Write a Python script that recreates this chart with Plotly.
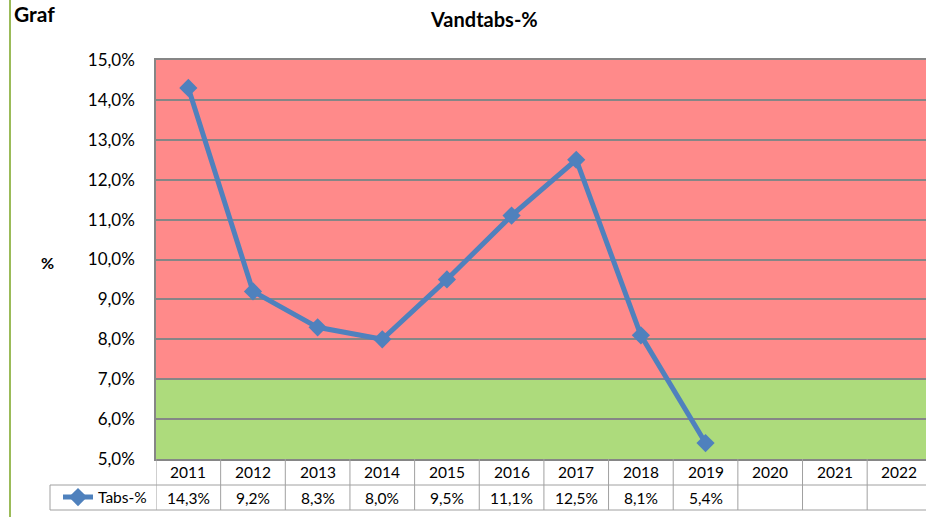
import plotly.graph_objects as go

years = ["2011", "2012", "2013", "2014", "2015", "2016", "2017", "2018", "2019", "2020", "2021", "2022"]
tabs_pct = [14.3, 9.2, 8.3, 8.0, 9.5, 11.1, 12.5, 8.1, 5.4, None, None, None]
series_name = "Tabs-%"
title_text = "Vandtabs-%"
y_ticks = [5, 6, 7, 8, 9, 10, 11, 12, 13, 14, 15]
red_zone = (7, 15)
green_zone = (5, 7)

FONT = "Lato, Carlito, sans-serif"
W, H = 926, 517
L, T, B = 156, 60, 58
plot_w = W - L
plot_h = H - T - B

def px_to_xp(px):
    return (px - L) / plot_w

def py_to_yp(py):
    return (H - B - py) / plot_h

def fmt(v):
    return f"{v:.1f}%".replace(".", ",")

xs = list(range(len(years)))

fig = go.Figure()
fig.add_trace(go.Scatter(
    x=xs, y=tabs_pct, mode="lines+markers", name=series_name,
    line=dict(color="#4F81BD", width=5),
    marker=dict(symbol="diamond", size=14, color="#4F81BD"),
    showlegend=True,
))

shapes = []
shapes.append(dict(type="rect", xref="paper", yref="y", x0=0, x1=1, y0=red_zone[0], y1=red_zone[1],
                   fillcolor="#FF8A8A", line=dict(width=0), layer="below"))
shapes.append(dict(type="rect", xref="paper", yref="y", x0=0, x1=1, y0=green_zone[0], y1=green_zone[1],
                   fillcolor="#ADDB7C", line=dict(width=0), layer="below"))
grid_col = "#A0A0A0"
row1 = py_to_yp(485)
row2 = py_to_yp(510)
for i in range(len(years) + 1):
    shapes.append(dict(type="line", xref="x", yref="paper", x0=i - 0.5, x1=i - 0.5, y0=0, y1=row2,
                       line=dict(color=grid_col, width=1)))
for yy in (row1, row2):
    shapes.append(dict(type="line", xref="paper", yref="paper", x0=px_to_xp(50), x1=1, y0=yy, y1=yy,
                       line=dict(color=grid_col, width=1)))
shapes.append(dict(type="line", xref="paper", yref="paper", x0=px_to_xp(50), x1=px_to_xp(50), y0=row1, y1=row2,
                   line=dict(color=grid_col, width=1)))
shapes.append(dict(type="line", xref="paper", yref="paper", x0=px_to_xp(10), x1=px_to_xp(10),
                   y0=py_to_yp(0), y1=py_to_yp(H), line=dict(color="#9BBB59", width=2)))

annotations = []
for i, yr in enumerate(years):
    annotations.append(dict(x=i, y=(0 + row1) / 2, xref="x", yref="paper", text=yr, showarrow=False,
                            font=dict(family=FONT, size=15.5, color="#000000"), yanchor="middle"))
    v = tabs_pct[i]
    if v is not None:
        annotations.append(dict(x=i, y=(row1 + row2) / 2, xref="x", yref="paper",
                                text=fmt(v), showarrow=False,
                                font=dict(family=FONT, size=15.5, color="#000000"), yanchor="middle"))
annotations.append(dict(x=px_to_xp(12), y=py_to_yp(14), xref="paper", yref="paper", text="<b>Graf</b>",
                        showarrow=False, xanchor="left", yanchor="middle",
                        font=dict(family=FONT, size=21, color="#000000")))
annotations.append(dict(x=px_to_xp(484), y=py_to_yp(19), xref="paper", yref="paper", text=f"<b>{title_text}</b>",
                        showarrow=False, xanchor="center", yanchor="middle",
                        font=dict(family=FONT, size=20, color="#000000")))
annotations.append(dict(x=px_to_xp(47), y=py_to_yp(262), xref="paper", yref="paper", text="<b>%</b>",
                        showarrow=False, xanchor="center", yanchor="middle",
                        font=dict(family=FONT, size=16, color="#000000")))

fig.update_layout(
    width=W, height=H,
    margin=dict(l=L, r=0, t=T, b=B, pad=0, autoexpand=False),
    paper_bgcolor="white", plot_bgcolor="white",
    font=dict(family=FONT, size=16, color="#000000"),
    shapes=shapes, annotations=annotations,
    legend=dict(x=px_to_xp(58), y=(row1 + row2) / 2, xanchor="left", yanchor="middle",
                bgcolor="rgba(0,0,0,0)", font=dict(family=FONT, size=15.5), itemwidth=30,
                tracegroupgap=0),
)
fig.update_xaxes(range=[-0.5, 11.41], showticklabels=False, showgrid=False, zeroline=False,
                 showline=True, linecolor="#868686", linewidth=1.5, mirror=True,
                 tickmode="array", tickvals=xs)
fig.update_yaxes(range=[5, 15], tickmode="array", tickvals=y_ticks, ticktext=[fmt(t) for t in y_ticks],
                 showgrid=True, gridcolor="#868686", gridwidth=1.5, zeroline=False,
                 showline=True, linecolor="#868686", linewidth=1.5, mirror=True,
                 ticks="", ticklabelstandoff=16, tickfont=dict(family=FONT, size=17))

fig.write_html("out.html", config={"displayModeBar": False},
               post_script="document.body.style.margin='0';document.body.style.overflow='hidden';")
